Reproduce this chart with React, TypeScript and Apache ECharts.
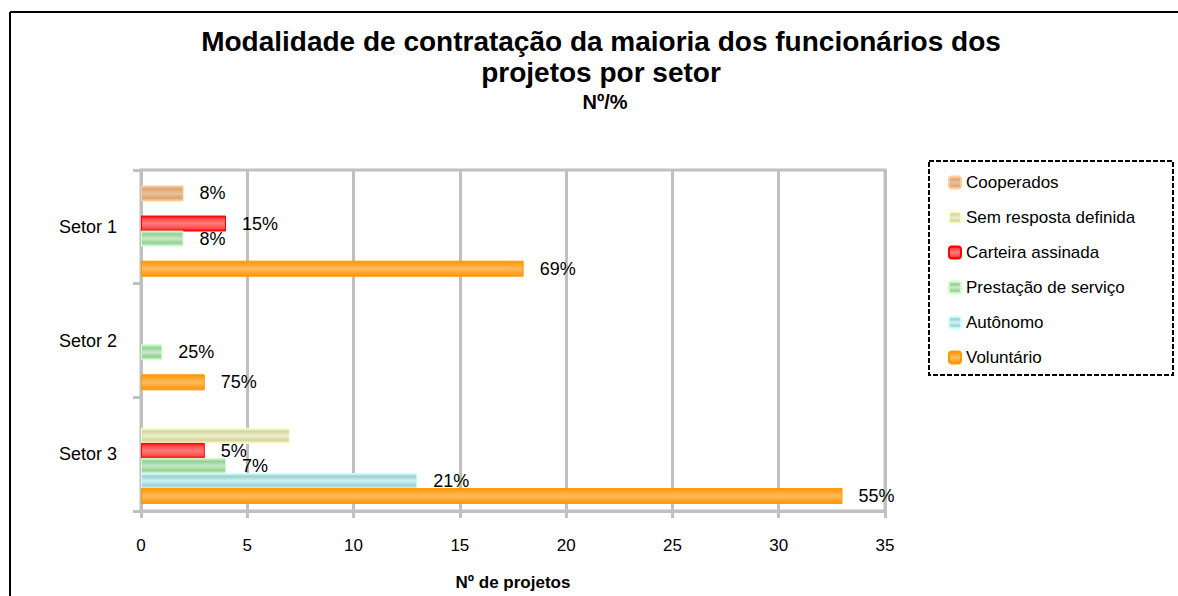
import React, { useEffect, useRef } from "react";
import * as echarts from "echarts";

const categories = ["Setor 1", "Setor 2", "Setor 3"];
const seriesNames = [
  "Cooperados",
  "Sem resposta definida",
  "Carteira assinada",
  "Prestação de serviço",
  "Autônomo",
  "Voluntário",
];
const cooperados = [2, 0, 0];
const semResposta = [0, 0, 7];
const carteira = [4, 0, 3];
const prestacao = [2, 1, 4];
const autonomo = [0, 0, 13];
const voluntario = [18, 3, 33];

const cooperadosPct = ["8%", "", ""];
const semRespostaPct = ["", "", ""];
const carteiraPct = ["15%", "", "5%"];
const prestacaoPct = ["8%", "25%", "7%"];
const autonomoPct = ["", "", "21%"];
const voluntarioPct = ["69%", "75%", "55%"];

const xTicks = [0, 35, 5];

const FONT = "'Liberation Sans', Arial, sans-serif";

const styles = [
  { border: "#FFCC99", inner: "#D9A574", mid: "#EBC095" },
  { border: "#FFFFCC", inner: "#D4D4A6", mid: "#EEEEC6" },
  { border: "#FF0000", inner: "#FF5050", mid: "#FF7A7A" },
  { border: "#CCFFCC", inner: "#99CC99", mid: "#C4EBC4" },
  { border: "#CCFFFF", inner: "#9FCFCF", mid: "#CBF3F3" },
  { border: "#FF9900", inner: "#FFA22A", mid: "#FFBB5C" },
];

export default function App() {
  const ref = useRef<HTMLDivElement>(null);
  useEffect(() => {
    if (!ref.current) return;
    const chart = echarts.init(ref.current, undefined, { renderer: "svg" });
    const values = [cooperados, semResposta, carteira, prestacao, autonomo, voluntario];
    const pcts = [cooperadosPct, semRespostaPct, carteiraPct, prestacaoPct, autonomoPct, voluntarioPct];
    const series: any[] = [
      {
        name: "_spacer",
        type: "bar",
        barWidth: 9,
        barGap: "-6%",
        data: categories.map(() => null),
        silent: true,
      },
    ];
    seriesNames.forEach((name, i) => {
      const s = styles[i];
      series.push({
        name,
        type: "bar",
        barWidth: 16,
        barGap: "-6%",
        data: values[i].map((v, j) =>
          v === 0
            ? null
            : {
                value: v,
                label: { show: pcts[i][j] !== "", formatter: pcts[i][j] },
              }
        ),
        itemStyle: {
          color: new echarts.graphic.LinearGradient(0, 0, 0, 1, [
            { offset: 0, color: s.border },
            { offset: 0.2, color: s.inner },
            { offset: 0.5, color: s.mid },
            { offset: 0.8, color: s.inner },
            { offset: 1, color: s.border },
          ]),
          borderColor: s.border,
          borderWidth: 1,
        },
        label: {
          position: "right",
          distance: 16,
          color: "#000",
          fontSize: 18,
          fontFamily: FONT,
        },
      });
    });
    chart.setOption({
      animation: false,
      backgroundColor: "#fff",
      title: [
        {
          text: "Modalidade de contratação da maioria dos funcionários dos\nprojetos por setor",
          left: 601,
          top: 26,
          padding: 0,
          textAlign: "center",
          textStyle: { fontFamily: FONT, fontSize: 28, fontWeight: "bold", lineHeight: 31, color: "#000" },
        },
        {
          text: "Nº/%",
          left: 605,
          top: 92,
          padding: 0,
          textAlign: "center",
          textStyle: { fontFamily: FONT, fontSize: 20, fontWeight: "bold", color: "#000" },
        },
      ],
      legend: {
        orient: "vertical",
        left: 948,
        top: 174,
        padding: 0,
        itemWidth: 12,
        itemHeight: 12,
        itemGap: 18,
        itemTextGap: 5,
        data: seriesNames,
        textStyle: { fontFamily: FONT, fontSize: 17, color: "#000", lineHeight: 17 },
      },
      grid: {
        left: 141,
        right: 293,
        top: 170,
        bottom: 81,
        show: true,
        borderColor: "#c0c0c0",
        borderWidth: 3,
      },
      xAxis: {
        type: "value",
        min: xTicks[0],
        max: xTicks[1],
        interval: xTicks[2],
        name: "Nº de projetos",
        nameLocation: "middle",
        nameGap: 63,
        nameTextStyle: { fontFamily: FONT, fontSize: 17, fontWeight: "bold", color: "#000" },
        axisLine: { show: true, lineStyle: { color: "#c0c0c0", width: 3 } },
        axisTick: { show: true, length: 7, lineStyle: { color: "#c0c0c0", width: 3 } },
        axisLabel: { fontFamily: FONT, fontSize: 17, color: "#000", margin: 26 },
        splitLine: { show: true, lineStyle: { color: "#c0c0c0", width: 3 } },
      },
      yAxis: {
        type: "category",
        inverse: true,
        data: categories,
        axisLine: { show: true, lineStyle: { color: "#c0c0c0", width: 3 } },
        axisTick: { show: true, length: 8, lineStyle: { color: "#c0c0c0", width: 3 } },
        axisLabel: { fontFamily: FONT, fontSize: 18, color: "#000", margin: 24 },
        splitLine: { show: false },
      },
      graphic: [
        { type: "line", shape: { x1: 10, y1: 12, x2: 1178, y2: 12 }, style: { stroke: "#000", lineWidth: 2 } },
        { type: "line", shape: { x1: 10, y1: 12, x2: 10, y2: 596 }, style: { stroke: "#000", lineWidth: 2 } },
        {
          type: "rect",
          shape: { x: 929, y: 161, width: 244, height: 214 },
          style: { fill: "none", stroke: "#000", lineWidth: 2, lineDash: [5, 2] },
        },
      ],
      series,
    });
    return () => chart.dispose();
  }, []);
  return (
    <div
      ref={ref}
      style={{ position: "fixed", left: 0, top: 0, width: 1178, height: 596 }}
    />
  );
}
